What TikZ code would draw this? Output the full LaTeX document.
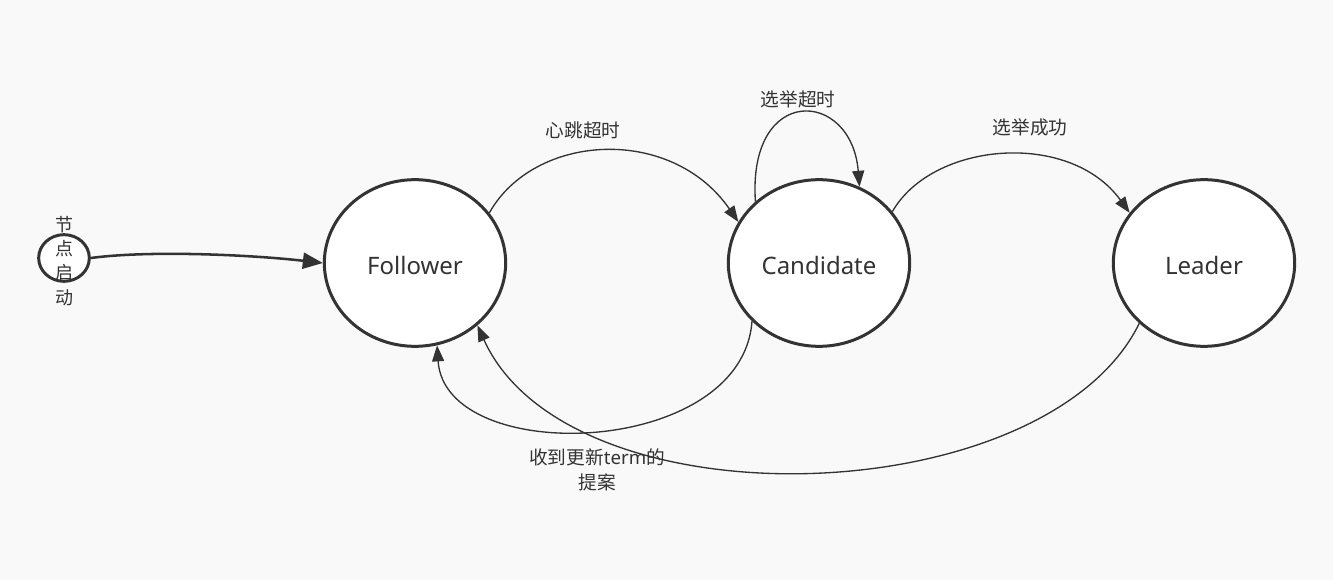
\documentclass[tikz,border=0pt]{standalone}
\usepackage{fontspec}
\setmainfont{Noto Sans}
\newfontfamily\cjk{Noto Sans CJK SC}
\usetikzlibrary{shapes.geometric,arrows.meta}
\definecolor{bg}{HTML}{F9F9F9}
\definecolor{ink}{HTML}{333333}
\newcommand{\lowtxt}[1]{\raisebox{0pt}[17.5pt][0pt]{#1}}
\begin{document}
\begin{tikzpicture}[x=0.75pt,y=-0.75pt,
  state/.style={ellipse, draw=ink, line width=2.25pt, fill=white,
    minimum width=136pt, minimum height=125pt, inner sep=0pt,
    font=\fontsize{18}{20}\selectfont, text=ink},
  startnode/.style={ellipse, draw=ink, line width=2.25pt, fill=white,
    minimum width=38pt, minimum height=35pt, inner sep=0pt},
  edge/.style={draw=ink, line width=1pt, -{Triangle[length=12pt,width=9pt]}},
  thickedge/.style={draw=ink, line width=1.9pt, -{Triangle[length=15pt,width=12pt]}},
  lbl/.style={font=\cjk\fontsize{14}{18.5}\selectfont, text=ink, align=center, inner sep=0pt}]
\fill[bg] (0,0) rectangle (1333,580);
\useasboundingbox (0,0) rectangle (1333,580);

\node[startnode] (S) at (64,258) {};
\node[lbl, font=\cjk\fontsize{13.5}{18.2}\selectfont] (St) at (64,261) {节\\点\\启\\动};

\node[state] (F) at (415,263) {\lowtxt{Follower}};
\node[state] (C) at (819,263) {\lowtxt{Candidate}};
\node[state] (L) at (1204,263) {\lowtxt{Leader}};

\draw[thickedge] (S.east) .. controls +(60,-8) and +(-70,-8) .. (F.west);
\draw[edge] (F.34) .. controls +(45,-80) and +(-67,-97) .. (C.153);
\draw[edge] (C.136) .. controls +(-8,-118) and +(-8,-98) .. (C.62);
\draw[edge] (C.35) .. controls +(40,-70) and +(-60,-83) .. (L.146);
\draw[edge] (C.221) .. controls +(-10,137) and +(8,122) .. (F.285);
\draw[edge] (L.223) .. controls +(-93,190) and +(92,203) .. (F.315);

\node[lbl] (l1) at (583,130) {心跳超时};
\node[lbl] (l2) at (798,99) {选举超时};
\node[lbl] (l3) at (1030,127) {选举成功};
\node[lbl] (l4) at (597,470) {收到更新{\fontspec{Noto Sans}term}的\\提案};
\end{tikzpicture}
\end{document}
